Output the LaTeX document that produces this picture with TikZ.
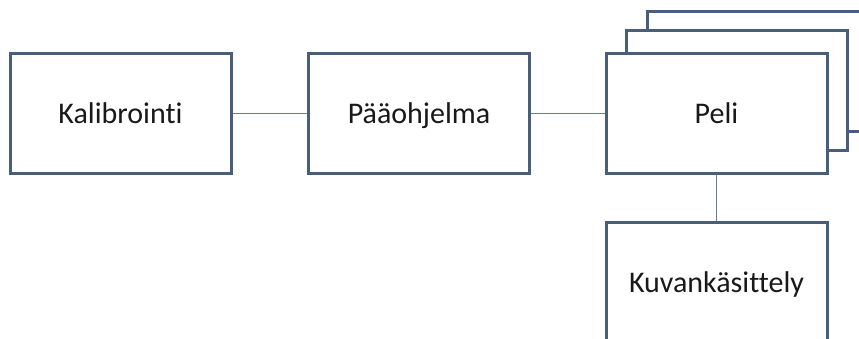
\documentclass[tikz,border=0pt]{standalone}
\usepackage{fontspec}
\setmainfont{Carlito}[Ligatures={NoCommon,NoRare,NoContextual}, RawFeature={-liga;-dlig;-clig}]
\definecolor{boxline}{RGB}{72,94,122}
\definecolor{conn}{RGB}{100,125,155}
\tikzset{
  blockbox/.style={draw=boxline, line width=3pt, fill=white, minimum width=221pt, minimum height=120pt, inner sep=0pt, text height=26pt, text depth=6pt, font=\fontsize{30}{36}\selectfont, text=black!90},
  link/.style={draw=conn, line width=1pt}
}
\begin{document}
\begin{tikzpicture}[x=1pt,y=-1pt]
\useasboundingbox (0,0) rectangle (859,338);
\clip (0,0) rectangle (859,338);
\fill[white] (0,0) rectangle (859,338);
\node[blockbox] (back3) at (758,71) {};
\node[blockbox] (back2) at (737,90) {};
\node[blockbox] (kal) at (120.5,113) {Kalibrointi};
\node[blockbox] (paa) at (419,113) {Pääohjelma};
\node[blockbox] (peli) at (716.5,113) {Peli};
\node[blockbox] (kuva) at (716.5,282) {Kuvankäsittely};
\draw[link] (kal) -- (paa);
\draw[link] (paa) -- (peli);
\draw[link] (peli) -- (kuva);
\end{tikzpicture}
\end{document}
